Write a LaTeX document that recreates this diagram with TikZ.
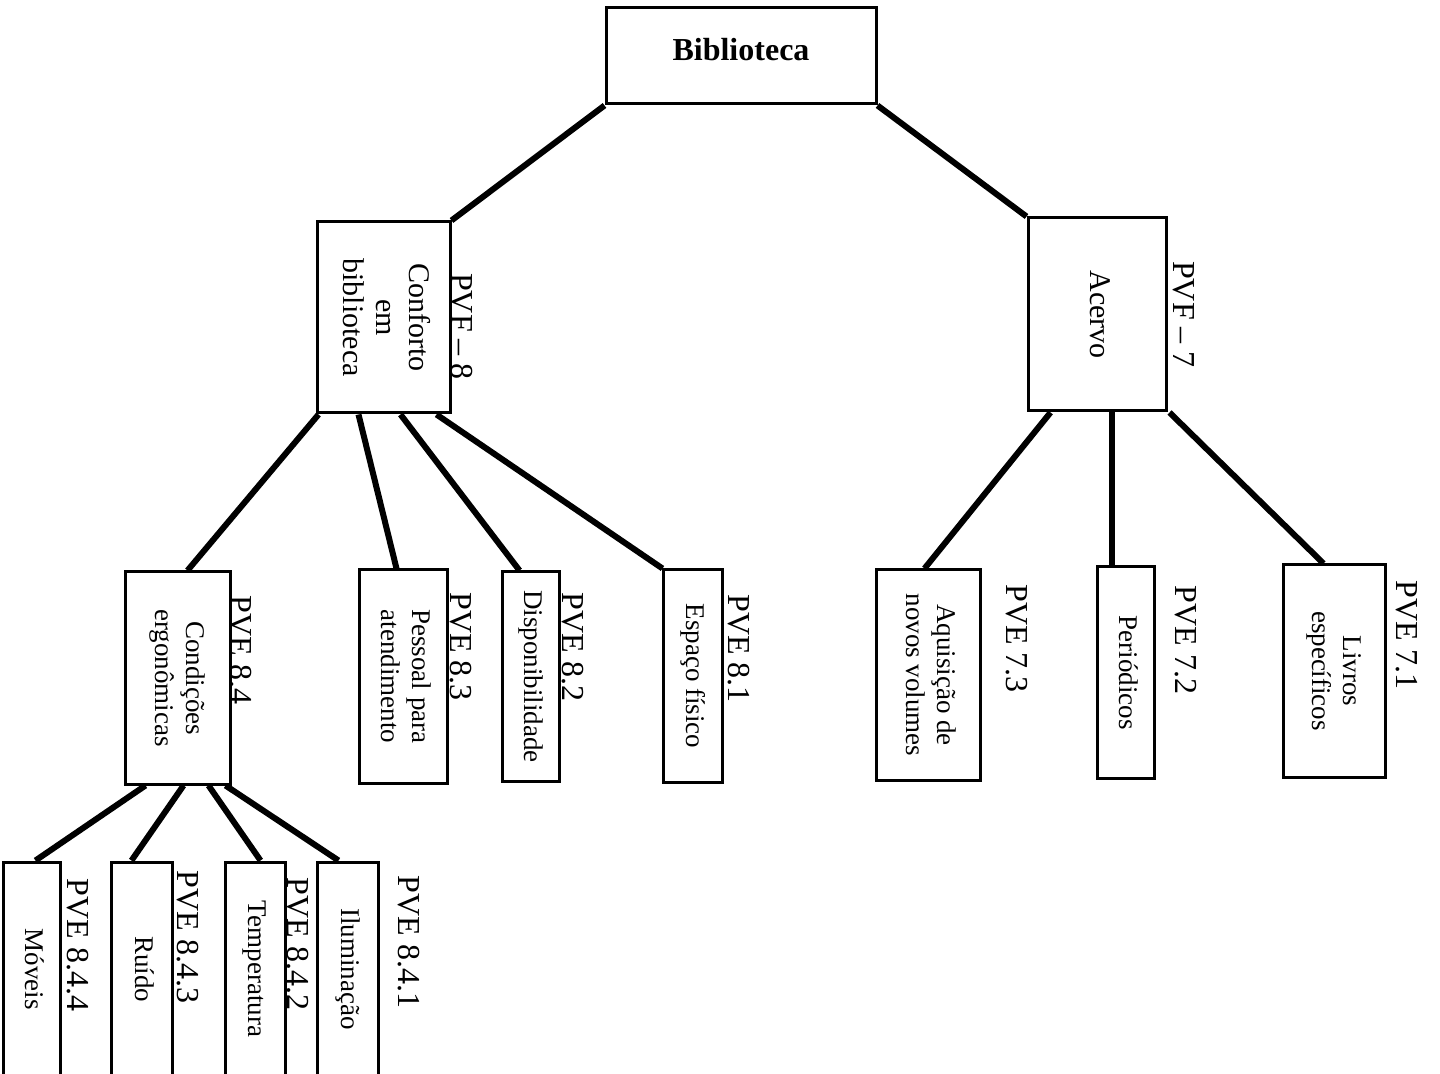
\documentclass[tikz,border=0pt]{standalone}
\usepackage{fontspec}
\usepackage{graphicx}
\setmainfont{Liberation Serif}
\usetikzlibrary{calc}

% Units: one unit = 0.5pt, y grows downwards
\tikzset{
  box/.style={draw, line width=1.5pt, fill=white, inner sep=0pt,
    font=\fontsize{13.5}{15.5}\selectfont},
  bigbox/.style={box, font=\fontsize{15}{16.5}\selectfont},
  size/.style 2 args={minimum width={#1*0.5pt}, minimum height={#2*0.5pt}},
  link/.style={line width=3pt},
  tag/.style={rotate=-90, inner sep=0pt, font=\fontsize{16}{18}\selectfont},
}
\newcommand{\vtext}[1]{\rotatebox{-90}{\begin{tabular}{@{}c@{}}#1\end{tabular}}}

\begin{document}
\begin{tikzpicture}[x=0.5pt, y=-0.5pt]
\useasboundingbox (0,0) rectangle (1440,1074);
\clip (0,0) rectangle (1440,1074);

% root
\node[box, size={270}{96}] (bib) at (741,56) {};
\node[font=\bfseries\fontsize{16}{18}\selectfont, inner sep=0pt] (tbib) at (741,50) {Biblioteca};

% first level
\node[bigbox, size={133}{191}] (conf) at (383.5,317.5) {\vtext{Conforto\\em\\biblioteca}};
\node[bigbox, size={138}{193}] (acer) at (1097,314.5) {\vtext{Acervo}};
\node[tag] (tconf) at (462,326.5) {PVF -- 8};
\node[tag] (tacer) at (1183.5,314.5) {PVF -- 7};

% second level, comfort branch
\node[box, size={105}{212}] (cond) at (177.5,678) {\vtext{Condições\\ergonômicas}};
\node[box, size={88}{213}] (pess) at (403,676.5) {\vtext{Pessoal para\\atendimento}};
\node[box, size={57}{209}] (disp) at (530.5,676.5) {\vtext{Disponibilidade}};
\node[box, size={59}{212}] (esp) at (692.5,676) {\vtext{Espaço físico}};
\node[tag] (tcond) at (241,650) {PVE 8.4};
\node[tag] (tpess) at (461,646.5) {PVE 8.3};
\node[tag] (tdisp) at (572.5,647) {PVE 8.2};
\node[tag] (tesp) at (739,648.5) {PVE 8.1};

% second level, collection branch
\node[box, size={104}{210}] (aqui) at (928,675) {\vtext{Aquisição de\\novos volumes}};
\node[box, size={57}{211}] (peri) at (1125.5,672.5) {\vtext{Periódicos}};
\node[box, size={102}{212}] (livr) at (1334,671) {\vtext{Livros\\específicos}};
\node[tag] (taqui) at (1017,638.5) {PVE 7.3};
\node[tag] (tperi) at (1186,640) {PVE 7.2};
\node[tag] (tlivr) at (1406.5,635) {PVE 7.1};

% third level, ergonomics
\node[box, size={57}{214}] (move) at (31.5,969) {\vtext{Móveis}};
\node[box, size={61}{214}] (ruid) at (141.5,969) {\vtext{Ruído}};
\node[box, size={60}{214}] (temp) at (255,969) {\vtext{Temperatura}};
\node[box, size={61}{214}] (ilum) at (347.5,969) {\vtext{Iluminação}};
\node[tag] (tmove) at (77.5,945) {PVE 8.4.4};
\node[tag] (truid) at (188,937) {PVE 8.4.3};
\node[tag] (ttemp) at (297.5,944) {PVE 8.4.2};
\node[tag] (tilum) at (408.5,942) {PVE 8.4.1};

% connectors
\draw[link] (bib.south west) -- (conf.north east);
\draw[link] (bib.south east) -- (acer.north west);

\draw[link] ($(conf.south west)+(3,0)$) -- ($(cond.north west)+(64,0)$);
\draw[link] ($(conf.south west)+(43,0)$) -- ($(pess.north west)+(39,0)$);
\draw[link] ($(conf.south west)+(85,0)$) -- ($(disp.north west)+(19,0)$);
\draw[link] ($(conf.south west)+(121,0)$) -- ($(esp.north west)+(1,0)$);

\draw[link] ($(acer.south west)+(24,0)$) -- ($(aqui.north west)+(50,0)$);
\draw[link] ($(acer.south west)+(85,0)$) -- ($(peri.north west)+(16,0)$);
\draw[link] ($(acer.south east)+(2,0)$) -- ($(livr.north west)+(42,0)$);

\draw[link] ($(cond.south west)+(22,0)$) -- ($(move.north west)+(34,0)$);
\draw[link] ($(cond.south west)+(60,0)$) -- ($(ruid.north west)+(22,0)$);
\draw[link] ($(cond.south west)+(85,0)$) -- ($(temp.north west)+(37,0)$);
\draw[link] ($(cond.south west)+(102,0)$) -- ($(ilum.north west)+(23,0)$);
\end{tikzpicture}
\end{document}
